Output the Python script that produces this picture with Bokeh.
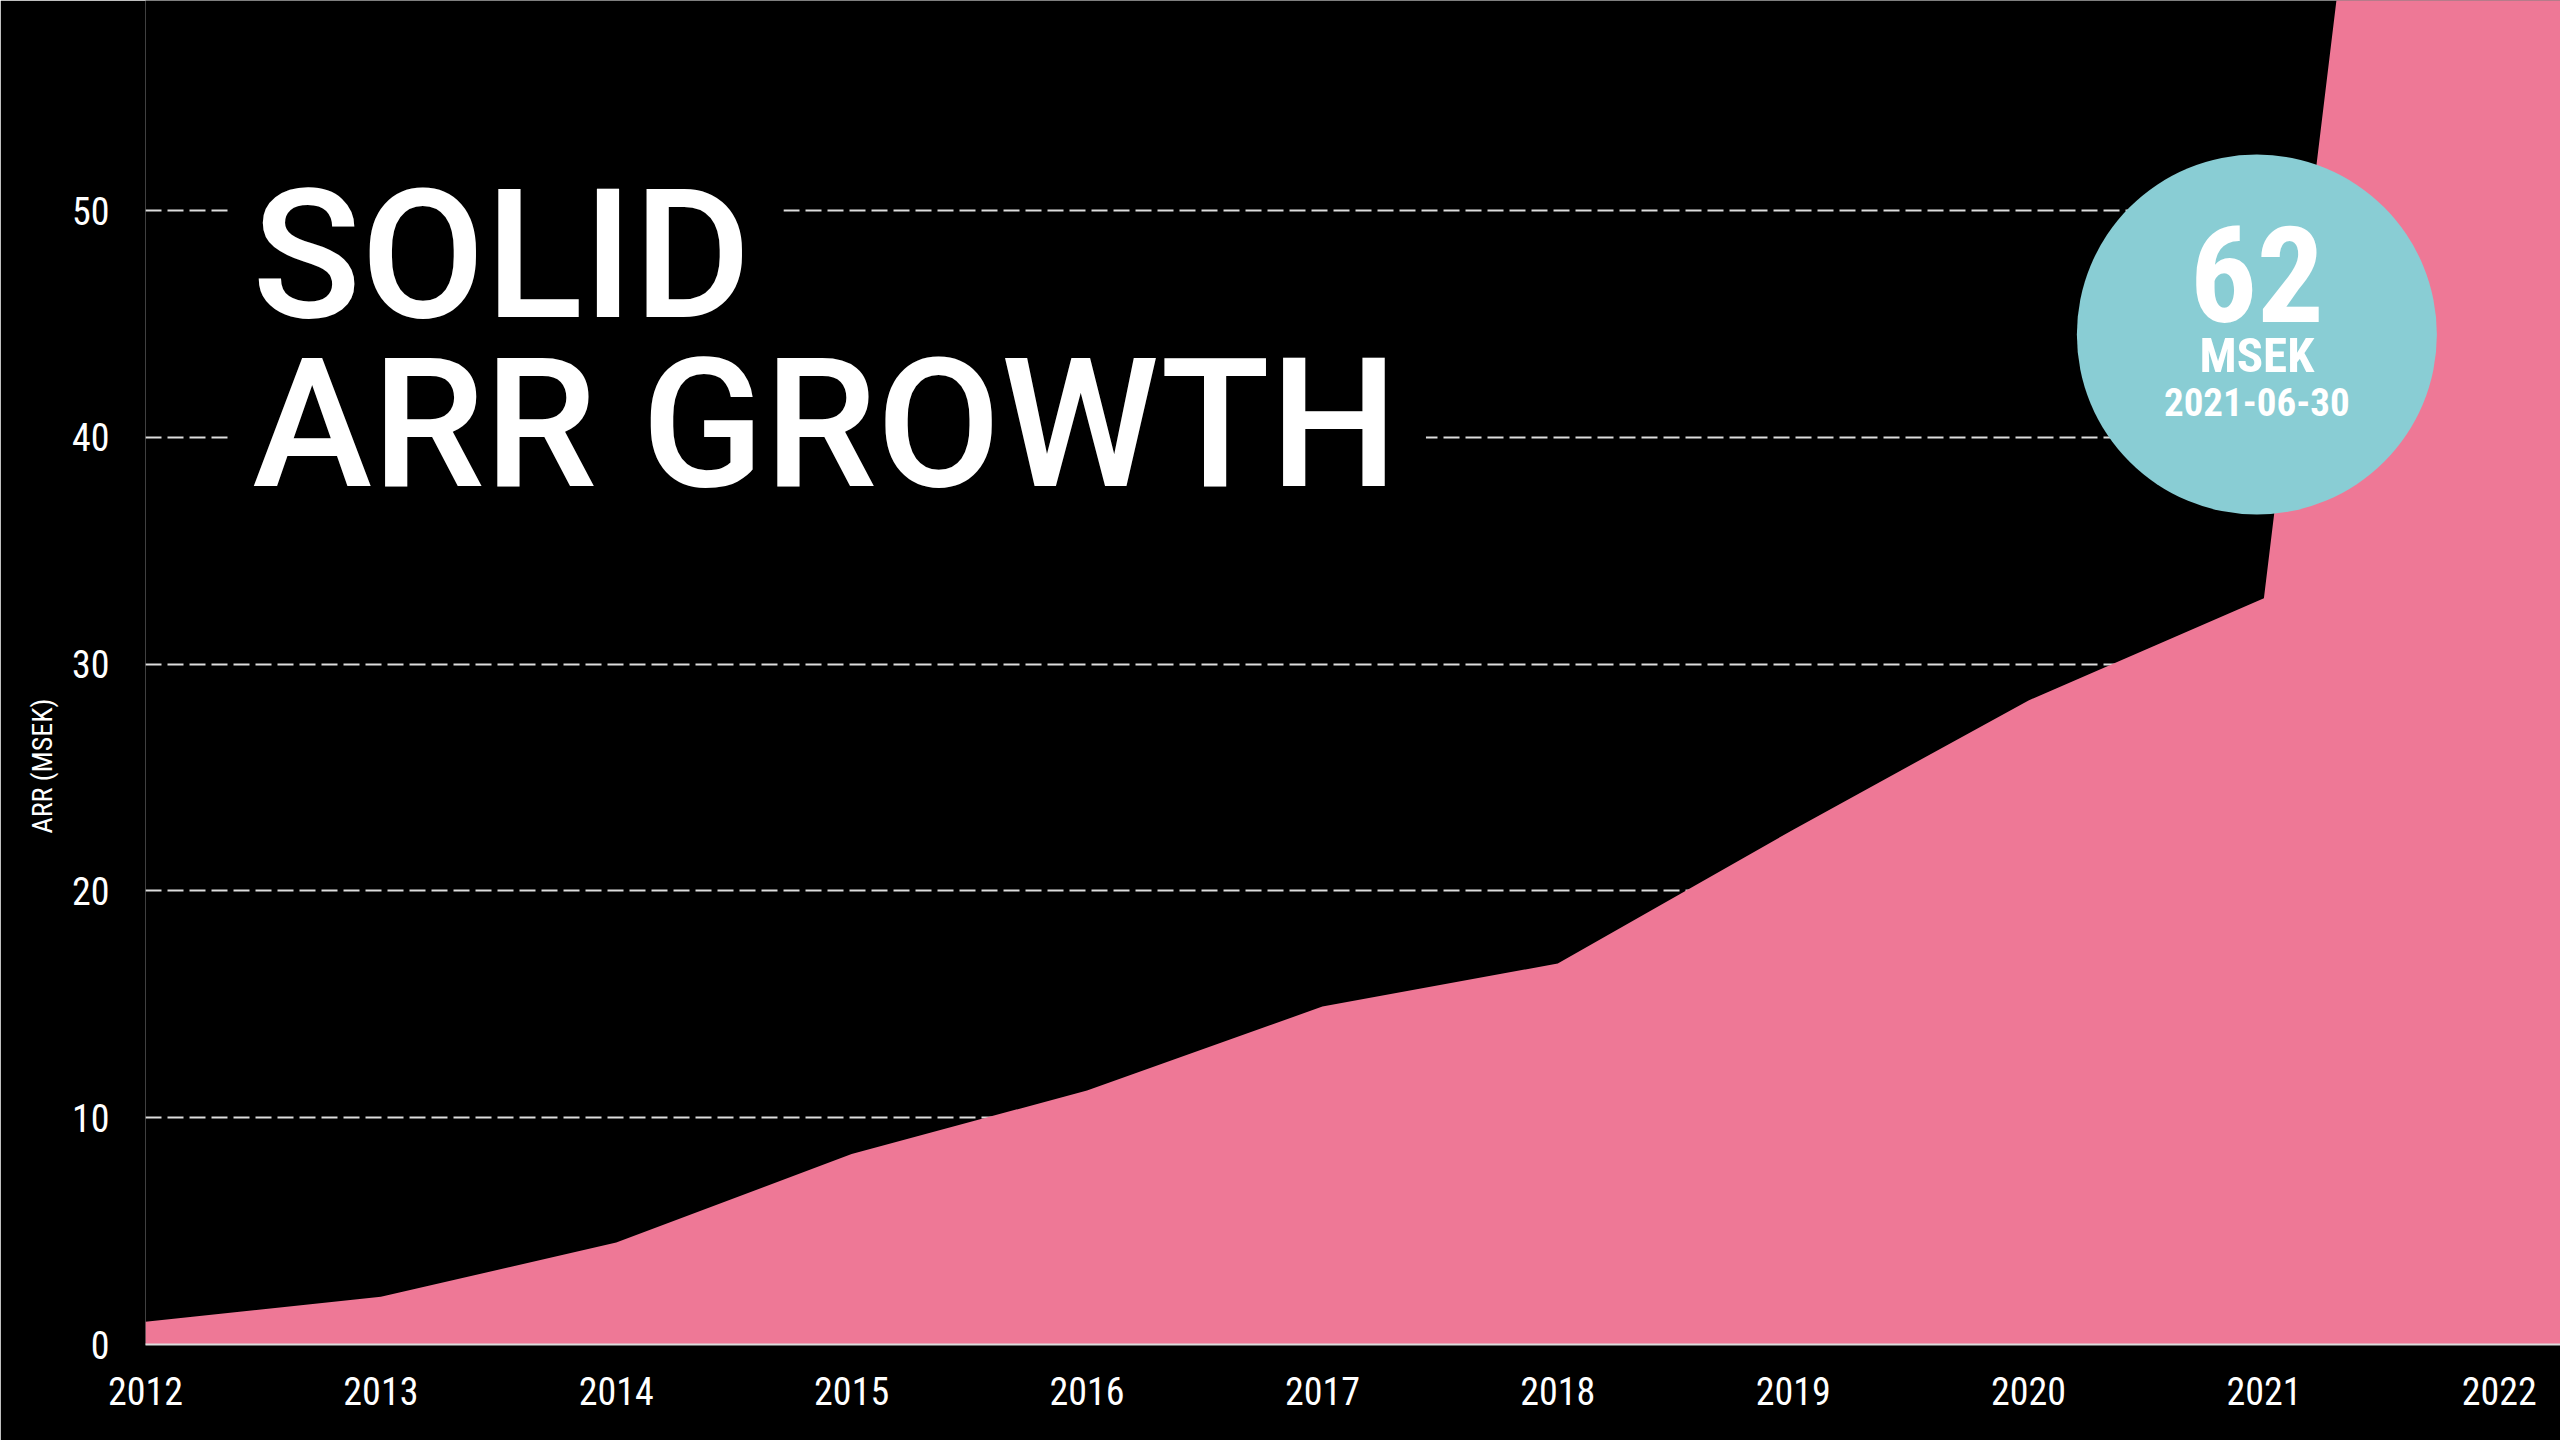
import math
from bokeh.plotting import figure
from bokeh.models import Range1d, FixedTicker, Label, BoxAnnotation, Title
from bokeh.core.properties import value
from bokeh.embed import file_html
from bokeh.resources import INLINE

# ---------------- data ----------------
years = [2012, 2013, 2014, 2015, 2016, 2017, 2018, 2019, 2020, 2021]
arr_msek = [1.0, 2.1, 4.5, 8.4, 11.2, 14.9, 16.8, 22.7, 28.4, 32.9]
latest_x = [2021.34, 2022.26]
latest_arr = [62, 62]
x_ticks = [2012, 2013, 2014, 2015, 2016, 2017, 2018, 2019, 2020, 2021, 2022]
y_ticks = [0, 10, 20, 30, 40, 50]
callout_value = "62"
callout_unit = "MSEK"
callout_date = "2021-06-30"
title_lines = ["SOLID", "ARR GROWTH"]
y_label = "ARR (MSEK)"

area_x = years + latest_x
area_y = arr_msek + latest_arr

# ---------------- layout / styles ----------------
CALLOUT_X, CALLOUT_Y = 2020.97, 44.53
BG = "#000000"
PINK = "#EE7896"
TEAL = "#89CDD4"
GRID = "#DDDDDD"
NARROW = "'Liberation Sans Narrow', 'Roboto Condensed', Roboto, sans-serif"
TITLE_FONT = "'Roboto Medium', Roboto, sans-serif"

p = figure(
    width=2560, height=1440,
    x_range=Range1d(2012, 2022.26), y_range=Range1d(0, 59.26),
    output_backend="svg", toolbar_location=None,
    background_fill_color=BG, border_fill_color=BG,
    min_border_left=145, min_border_right=0,
    min_border_top=0, min_border_bottom=96,
)
p.outline_line_color = None

# grid
p.xgrid.grid_line_color = None
p.ygrid.grid_line_color = GRID
p.ygrid.grid_line_width = 2
p.ygrid.grid_line_dash = "16 6"
p.ygrid.ticker = FixedTicker(ticks=y_ticks)

# axes
p.xaxis.ticker = FixedTicker(ticks=x_ticks)
p.xaxis.axis_line_color = GRID
p.xaxis.axis_line_width = 2
p.xaxis.major_tick_line_color = None
p.xaxis.minor_tick_line_color = None
p.xaxis.major_tick_out = 0
p.xaxis.major_label_standoff = 32
p.xaxis.major_label_text_color = "white"
p.xaxis.major_label_text_font = NARROW
p.xaxis.major_label_text_font_size = "38px"

p.yaxis.ticker = FixedTicker(ticks=y_ticks)
p.yaxis.axis_line_color = None
p.yaxis.axis_line_alpha = 0
p.yaxis.major_tick_line_color = None
p.yaxis.minor_tick_line_color = None
p.yaxis.major_tick_out = 0
p.yaxis.major_label_standoff = 36
p.yaxis.major_label_text_color = "white"
p.yaxis.major_label_text_font = NARROW
p.yaxis.major_label_text_font_size = "38px"

# y axis label as a side title (lets it sit off-centre like the reference)
p.add_layout(Title(text=y_label, align="left", offset=511, standoff=20,
                   text_font=NARROW, text_font_size="28px",
                   text_font_style="normal", text_color="white"), "left")

# area
p.varea(x=area_x, y1=[0] * len(area_x), y2=area_y, fill_color=PINK, fill_alpha=1.0)

# callout circle
p.scatter(x=[CALLOUT_X], y=[CALLOUT_Y], size=360, marker="circle",
          fill_color=TEAL, line_color=None)
for txt, size, dy in [(callout_value, "133px", -61),
                      (callout_unit, "49px", 21),
                      (callout_date, "39px", 67)]:
    p.text(x=[CALLOUT_X], y=[CALLOUT_Y], text=[txt],
           text_font=value(NARROW), text_font_style="bold", text_font_size=size,
           text_color="white", text_align="center", text_baseline="alphabetic",
           y_offset=dy)

# black blocks that break the grid lines behind the title
p.add_layout(BoxAnnotation(left=2012.357, right=2014.71, bottom=48.5, top=51.5,
                           fill_color=BG, fill_alpha=1.0, line_color=None))
p.add_layout(BoxAnnotation(left=2012.357, right=2017.44, bottom=38.5, top=41.5,
                           fill_color=BG, fill_alpha=1.0, line_color=None))

# title
p.add_layout(Label(x=2012.453, y=48.01, text=title_lines[0], text_font=TITLE_FONT,
                   text_font_size="180px", text_color="white",
                   text_baseline="alphabetic"))
p.add_layout(Label(x=2012.453, y=40.56, text=title_lines[1], text_font=TITLE_FONT,
                   text_font_size="180px", text_color="white",
                   text_baseline="alphabetic"))

open("out.html", "w").write(file_html(p, INLINE))
